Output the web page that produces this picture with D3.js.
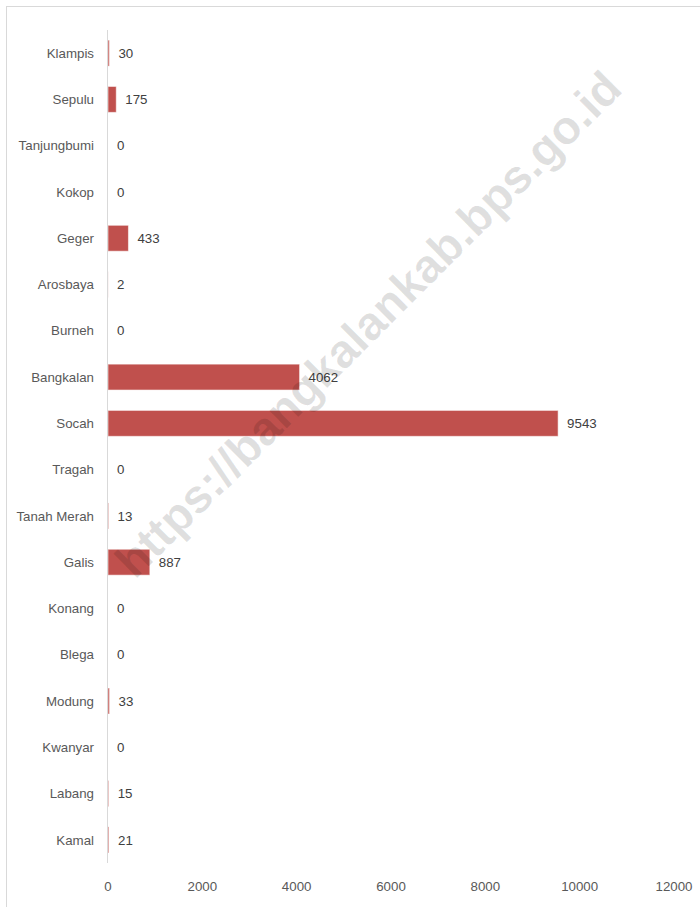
<!DOCTYPE html>
<html>
<head>
<meta charset="utf-8">
<script src="https://cdn.jsdelivr.net/npm/d3@7"></script>
<style>
  html, body { margin: 0; padding: 0; background: #fff; }
  svg { display: block; }
  .lbl { font-family: "Liberation Sans", Arial, sans-serif; }
</style>
</head>
<body>
<svg id="chart" width="700" height="907"></svg>
<script>
// Kecamatan (top to bottom) and their values
const districts = ["Klampis", "Sepulu", "Tanjungbumi", "Kokop", "Geger", "Arosbaya", "Burneh",
  "Bangkalan", "Socah", "Tragah", "Tanah Merah", "Galis", "Konang", "Blega", "Modung",
  "Kwanyar", "Labang", "Kamal"];
const values = [30, 175, 0, 0, 433, 2, 0, 4062, 9543, 0, 13, 887, 0, 0, 33, 0, 15, 21];
const xTicks = [0, 2000, 4000, 6000, 8000, 10000, 12000];
const watermark = "https://bangkalankab.bps.go.id";

const svg = d3.select("#chart");

// outer chart frame
svg.append("rect")
  .attr("x", 6.5).attr("y", 6.5)
  .attr("width", 720).attr("height", 920)
  .attr("fill", "#fff")
  .attr("stroke", "#d9d9d9")
  .attr("stroke-width", 1);

const x = d3.scaleLinear().domain([0, 12000]).range([108, 674]);
const y = d3.scaleBand().domain(districts).range([30, 863]).paddingInner(0.44).paddingOuter(0.22);

// bars
svg.append("g").selectAll("rect")
  .data(districts)
  .join("rect")
  .attr("x", x(0))
  .attr("y", d => y(d))
  .attr("width", (d, i) => x(values[i]) - x(0))
  .attr("height", y.bandwidth())
  .attr("fill", "#c0504d")
  .attr("stroke", "rgba(255,255,255,0.55)")
  .attr("stroke-width", 1);

// category axis line
svg.append("line")
  .attr("x1", x(0) - 0.5).attr("x2", x(0) - 0.5)
  .attr("y1", 30).attr("y2", 863)
  .attr("stroke", "#d9d9d9")
  .attr("stroke-width", 1);

// category labels
svg.append("g").selectAll("text")
  .data(districts)
  .join("text")
  .attr("class", "lbl")
  .attr("x", 94)
  .attr("y", d => y(d) + y.bandwidth() / 2)
  .attr("dy", "0.35em")
  .attr("text-anchor", "end")
  .attr("font-size", 13.3)
  .attr("fill", "#595959")
  .text(d => d);

// value labels
svg.append("g").selectAll("text")
  .data(districts)
  .join("text")
  .attr("class", "lbl")
  .attr("x", (d, i) => x(values[i]) + 9)
  .attr("y", d => y(d) + y.bandwidth() / 2)
  .attr("dy", "0.35em")
  .attr("font-size", 13.3)
  .attr("fill", "#404040")
  .text((d, i) => values[i]);

// value axis tick labels
svg.append("g").selectAll("text")
  .data(xTicks)
  .join("text")
  .attr("class", "lbl")
  .attr("x", d => x(d))
  .attr("y", 886)
  .attr("dy", "0.35em")
  .attr("text-anchor", "middle")
  .attr("font-size", 13.3)
  .attr("fill", "#595959")
  .text(d => d);

// site watermark across the plot
svg.append("text")
  .attr("transform", "translate(368,324) rotate(-45)")
  .attr("text-anchor", "middle")
  .attr("dy", "0.35em")
  .attr("font-family", "Liberation Sans, Arial, sans-serif")
  .attr("font-weight", "bold")
  .attr("font-size", 47)
  .attr("fill", "rgba(0,0,0,0.12)")
  .text(watermark);
</script>
</body>
</html>
